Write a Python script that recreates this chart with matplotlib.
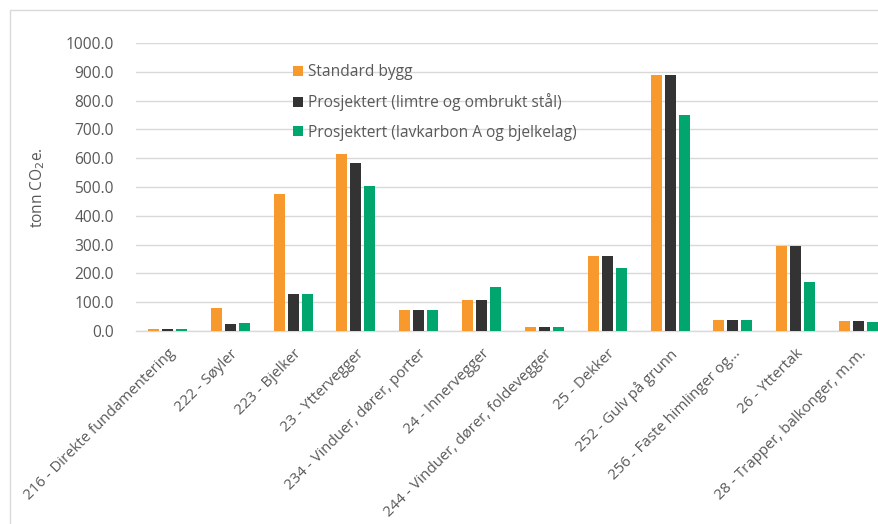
import numpy as np
import matplotlib
matplotlib.use('Agg')
import matplotlib.pyplot as plt
from matplotlib.patches import Rectangle

plt.rcParams['font.family'] = ['Open Sans', 'DejaVu Sans']

# building parts and emissions per variant (tonn CO2e.)
categories = [
    '216 - Direkte fundamentering', '222 - Søyler', '223 - Bjelker', '23 - Yttervegger',
    '234 - Vinduer, dører, porter', '24 - Innervegger', '244 - Vinduer, dører, foldevegger',
    '25 - Dekker', '252 - Gulv på grunn', '256 - Faste himlinger og...', '26 - Yttertak',
    '28 - Trapper, balkonger, m.m.',
]
standard = [7, 79, 477, 615, 74, 109, 14, 259, 889, 39, 296, 35]
limtre = [7, 24, 127, 584, 74, 109, 14, 259, 889, 39, 296, 35]
lavkarbon = [7, 29, 127, 504, 74, 154, 14, 219, 749, 39, 170, 31]

series_names = ['Standard bygg', 'Prosjektert (limtre og ombrukt stål)',
                'Prosjektert (lavkarbon A og bjelkelag)']
colors = ['#F7992D', '#333333', '#00A66D']
fs = 11.2

W, H = 879, 524
fig = plt.figure(figsize=(W / 100, H / 100), dpi=100)
ax = fig.add_axes([136 / W, 1 - 331 / H, 754 / W, 288 / H])

x = np.arange(len(categories))
bw = 0.175
step = 0.223
bars = []
for i, (vals, col, name) in enumerate(zip([standard, limtre, lavkarbon], colors, series_names)):
    b = ax.bar(x + (i - 1) * step, vals, width=bw, color=col, label=name,
               linewidth=0, zorder=3)
    bars.append(b)

ax.set_xlim(-0.5, len(categories) - 0.5)
ax.set_ylim(0, 1000)
ax.set_yticks(np.arange(0, 1001, 100))
ax.set_yticklabels([f'{v:.1f}' for v in np.arange(0, 1001, 100)])
ax.grid(axis='y', color='#d9d9d9', linewidth=1.0, zorder=0)
for s in ['top', 'right', 'left']:
    ax.spines[s].set_visible(False)
ax.spines['bottom'].set_color('#d9d9d9')
ax.spines['bottom'].set_linewidth(1.0)
ax.tick_params(axis='y', length=0, pad=16, labelsize=fs, labelcolor='#595959')
ax.tick_params(axis='x', length=0, pad=11, labelsize=10.8, labelcolor='#595959')
ax.set_xticks(x)
ax.set_xticklabels(categories, rotation=45, ha='right', rotation_mode='anchor')

fig.text(38 / W, 1 - 188 / H, 'tonn CO$_2$e.', rotation=90, ha='center', va='center',
         fontsize=fs, color='#595959')

leg = ax.legend(handles=bars, loc='upper left', bbox_to_anchor=(287 / W, 1 - 58 / H),
                bbox_transform=fig.transFigure, frameon=False, fontsize=fs,
                handlelength=0.65, handleheight=0.65, handletextpad=0.3, labelspacing=0.85,
                borderaxespad=0)
for t in leg.get_texts():
    t.set_color('#595959')

# outer chart border
fig.patches.append(Rectangle((10 / W, -0.1), 1.2, 1 - 10 / H + 0.1, transform=fig.transFigure,
                             fill=False, edgecolor='#d9d9d9', linewidth=1.0))

fig.savefig('out.png', dpi=100)
